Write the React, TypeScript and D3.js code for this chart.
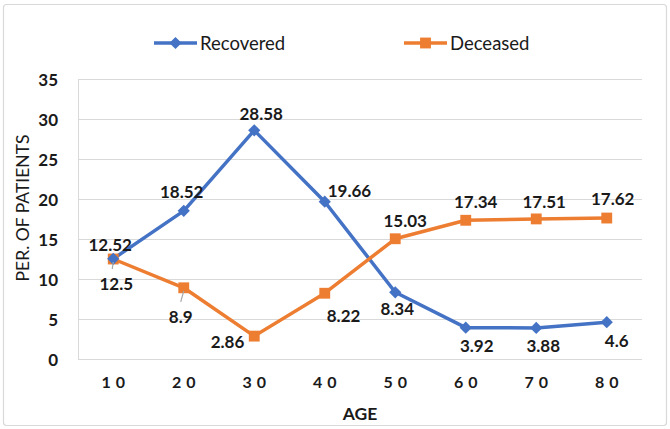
import React from 'react';
import * as d3 from 'd3';

const ages = ['10', '20', '30', '40', '50', '60', '70', '80'];
const recovered = [12.52, 18.52, 28.58, 19.66, 8.34, 3.92, 3.88, 4.6];
const deceased = [12.5, 8.9, 2.86, 8.22, 15.03, 17.34, 17.51, 17.62];
const yTicks = [0, 5, 10, 15, 20, 25, 30, 35];

// label placement relative to each point: [dx, dy, anchor]
const recLabelPos: [number, number, string][] = [
  [-3, -8, 'middle'], [-2, -13, 'middle'], [7, -10, 'middle'], [3, -5, 'start'],
  [2, 23, 'middle'], [11, 24, 'middle'], [7, 24, 'middle'], [10, 25, 'middle'],
];
const decLabelPos: [number, number, string][] = [
  [3, 31, 'middle'], [-3, 35, 'middle'], [-10, 12, 'end'], [2, 29, 'start'],
  [10, -12, 'middle'], [10, -12, 'middle'], [8, -11, 'middle'], [6, -13, 'middle'],
];
// leader lines for labels far from their point (deceased 10 and 20)
const decLeaders = [0, 1];

const BLUE = '#4472C4';
const ORANGE = '#ED7D31';
const FONT = 'Lato, Carlito, Calibri, sans-serif';

export default function App() {
  const W = 670, H = 429;
  const left = 78, right = 642, top = 79, bottom = 359;

  const x = d3.scaleBand().domain(ages).range([left, right]);
  const y = d3.scaleLinear().domain([0, 35]).range([bottom, top]);
  const cx = (a: string) => (x(a) ?? 0) + x.bandwidth() / 2;

  const line = d3.line<number>()
    .x((_, i) => cx(ages[i]))
    .y(d => y(d));

  const diamond = d3.symbol().type(d3.symbolDiamond2).size(95)();
  const square = d3.symbol().type(d3.symbolSquare2).size(150)();

  return (
    <svg width={W} height={H} style={{ position: 'absolute', left: 0, top: 0, fontFamily: FONT }}>
      <rect x={0} y={0} width={W} height={H} fill="#fff" />
      <rect x={3.5} y={4.5} width={663} height={421} rx={3} fill="#fff" stroke="#d9d9d9" strokeWidth={1.2} />

      {/* legend */}
      <g>
        <line x1={154} x2={197} y1={43} y2={43} stroke={BLUE} strokeWidth={3.5} />
        <path d={diamond} transform="translate(175.5,43)" fill={BLUE} />
        <text x={200} y={43} dominantBaseline="central" fontSize={18.5} fill="#1a1a1a">Recovered</text>
        <line x1={404} x2={447} y1={43} y2={43} stroke={ORANGE} strokeWidth={3.5} />
        <path d={square} transform="translate(425.5,43)" fill={ORANGE} />
        <text x={450} y={43} dominantBaseline="central" fontSize={18.5} fill="#1a1a1a">Deceased</text>
      </g>

      {/* gridlines */}
      {yTicks.map(t => (
        <line key={t} x1={left} x2={right} y1={y(t) + 0.5} y2={y(t) + 0.5} stroke="#d9d9d9" strokeWidth={1} />
      ))}
      <line x1={left + 0.5} x2={left + 0.5} y1={top} y2={bottom} stroke="#d9d9d9" strokeWidth={1} />

      {/* y ticks */}
      {yTicks.map(t => (
        <text key={t} x={58} y={y(t)} textAnchor="end" dominantBaseline="central"
          fontSize={17} fontWeight="bold" fill="#1a1a1a">{t}</text>
      ))}

      {/* x ticks */}
      {ages.map(a => (
        <text key={a} x={cx(a) + 2.5} y={388} textAnchor="middle" fontSize={16} fontWeight="bold"
          letterSpacing={5} fill="#1a1a1a">{a}</text>
      ))}

      {/* axis titles */}
      <text x={360} y={420} textAnchor="middle" fontSize={17.5} fontWeight="bold" fill="#1a1a1a">AGE</text>
      <text transform="translate(29,208) rotate(-90)" textAnchor="middle" fontSize={17.5} fill="#1a1a1a">PER. OF PATIENTS</text>

      {/* series */}
      <path d={line(recovered) ?? ''} fill="none" stroke={BLUE} strokeWidth={3.5} strokeLinejoin="round" />
      <path d={line(deceased) ?? ''} fill="none" stroke={ORANGE} strokeWidth={3.5} strokeLinejoin="round" />

      {deceased.map((v, i) => (
        <path key={'ds' + i} d={square} transform={`translate(${cx(ages[i])},${y(v)})`} fill={ORANGE} />
      ))}
      {recovered.map((v, i) => (
        <path key={'rd' + i} d={diamond} transform={`translate(${cx(ages[i])},${y(v)})`} fill={BLUE} />
      ))}

      {/* leader lines */}
      {decLeaders.map(i => {
        const px = cx(ages[i]), py = y(deceased[i]);
        return <line key={'ld' + i} x1={px} y1={py + 3} x2={px - 3 + (i === 0 ? 2 : 0)} y2={py + (i === 0 ? 10 : 14)}
          stroke="#a6a6a6" strokeWidth={1.2} />;
      })}

      {/* data labels */}
      {recovered.map((v, i) => (
        <text key={'rl' + i} x={cx(ages[i]) + recLabelPos[i][0]} y={y(v) + recLabelPos[i][1]}
          textAnchor={recLabelPos[i][2] as any} fontSize={17} fontWeight="bold" fill="#1a1a1a">{v}</text>
      ))}
      {deceased.map((v, i) => (
        <text key={'dl' + i} x={cx(ages[i]) + decLabelPos[i][0]} y={y(v) + decLabelPos[i][1]}
          textAnchor={decLabelPos[i][2] as any} fontSize={17} fontWeight="bold" fill="#1a1a1a">{v}</text>
      ))}
    </svg>
  );
}
